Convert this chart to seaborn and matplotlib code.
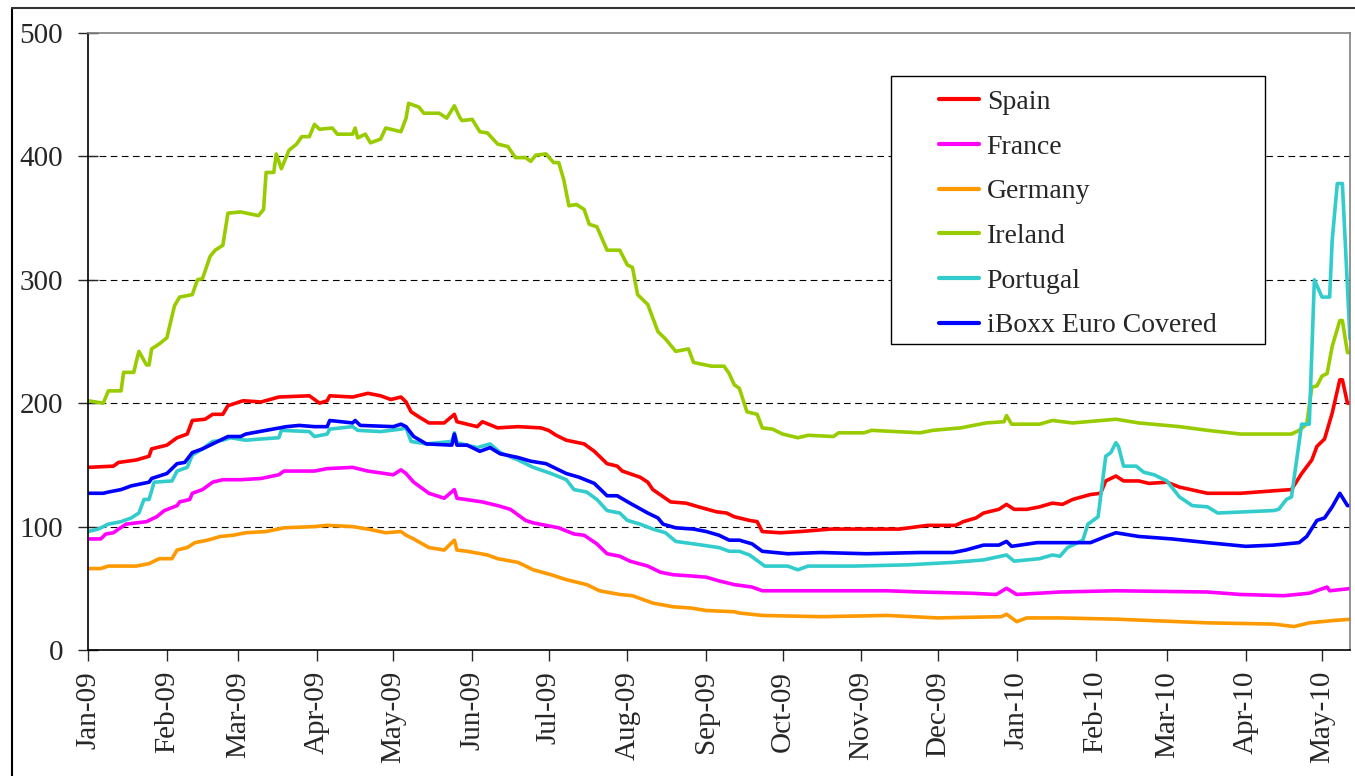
import pandas as pd
import matplotlib
matplotlib.use("Agg")
import matplotlib.pyplot as plt
import matplotlib.dates as mdates
from matplotlib.lines import Line2D
from matplotlib.patches import Rectangle
import seaborn as sns

# gunler 2009-01-01'den itibaren sayiliyor, degerler baz puan
start = pd.Timestamp("2009-01-01")

spain_days = [0, 10, 12, 19, 24, 25, 31, 35, 39, 41, 46, 49, 53, 55, 61, 68, 75, 87, 91, 94, 95,
              104, 110, 115, 119, 123, 125, 127, 130, 134, 140, 144, 145, 153, 155, 161, 169, 178,
              181, 184, 188, 195, 199, 204, 208, 210, 217, 220, 222, 229, 235, 240, 247, 251, 254,
              256, 260, 263, 265, 272, 280, 292, 305, 319, 330, 341, 344, 349, 352, 358, 361, 364,
              369, 374, 379, 383, 387, 394, 398, 400, 404, 407, 413, 417, 424, 429, 440, 453, 466,
              473, 477, 481, 483, 486, 489, 492, 493, 495, 497]
spain = [148, 149, 152, 154, 157, 163, 166, 172, 175, 186, 187, 191, 191, 198, 202, 201, 205, 206,
         200, 202, 206, 205, 208, 206, 203, 205, 201, 193, 189, 184, 184, 191, 185, 181, 185, 180,
         181, 180, 178, 174, 170, 167, 161, 151, 149, 145, 140, 136, 130, 120, 119, 116, 112, 111,
         108, 107, 105, 104, 96, 95, 96, 98, 98, 98, 101, 101, 104, 107, 111, 114, 118, 114, 114,
         116, 119, 118, 122, 126, 127, 137, 141, 137, 137, 135, 136, 132, 127, 127, 129, 130, 143,
         154, 165, 171, 192, 219, 219, 200, 200]

france_days = [0, 5, 7, 10, 12, 15, 23, 27, 30, 35, 36, 40, 41, 45, 49, 53, 60, 68, 75, 77, 89, 94,
               104, 110, 120, 123, 125, 128, 134, 140, 144, 145, 155, 161, 166, 172, 175, 185, 191,
               195, 200, 204, 209, 213, 220, 225, 230, 237, 243, 248, 254, 261, 265, 288, 314, 327,
               347, 357, 361, 365, 382, 404, 440, 453, 470, 480, 487, 488, 497]
france = [90, 90, 94, 95, 98, 102, 104, 108, 113, 117, 120, 122, 127, 130, 136, 138, 138, 139, 142,
          145, 145, 147, 148, 145, 142, 146, 143, 136, 127, 123, 130, 123, 120, 117, 114, 105, 103,
          99, 94, 93, 86, 78, 76, 72, 68, 63, 61, 60, 59, 56, 53, 51, 48, 48, 48, 47, 46, 45, 50,
          45, 47, 48, 47, 45, 44, 46, 51, 48, 50]

germany_days = [0, 5, 8, 19, 24, 28, 33, 35, 39, 42, 47, 52, 57, 62, 70, 77, 89, 94, 104, 110, 117,
                123, 125, 128, 134, 140, 144, 145, 149, 157, 161, 169, 175, 182, 188, 196, 201, 209,
                214, 222, 230, 237, 243, 254, 256, 265, 288, 314, 334, 359, 361, 365, 369, 382, 404,
                440, 466, 474, 480, 490, 497]
germany = [66, 66, 68, 68, 70, 74, 74, 81, 83, 87, 89, 92, 93, 95, 96, 99, 100, 101, 100, 98, 95,
           96, 93, 90, 83, 81, 89, 81, 80, 77, 74, 71, 65, 61, 57, 53, 48, 45, 44, 38, 35, 34, 32,
           31, 30, 28, 27, 28, 26, 27, 29, 23, 26, 26, 25, 22, 21, 19, 22, 24, 25]

ireland_days = [0, 6, 8, 13, 14, 18, 19, 20, 23, 24, 25, 28, 31, 34, 36, 41, 43, 45, 48, 50, 53, 55,
                60, 67, 69, 70, 73, 74, 76, 79, 82, 84, 87, 89, 91, 96, 98, 104, 105, 106, 109, 111,
                115, 117, 123, 125, 126, 130, 132, 138, 141, 144, 146, 147, 151, 154, 157, 161, 165,
                168, 172, 174, 176, 180, 183, 185, 187, 189, 192, 195, 197, 200, 204, 209, 212, 214,
                216, 220, 224, 227, 231, 236, 238, 245, 250, 252, 254, 256, 259, 263, 265, 269, 273,
                279, 283, 293, 295, 305, 308, 327, 332, 343, 353, 360, 361, 363, 374, 379, 387, 404,
                413, 429, 440, 453, 473, 476, 479, 481, 483, 485, 487, 489, 492, 493, 495, 497]
ireland = [202, 200, 210, 210, 225, 225, 234, 242, 231, 231, 244, 248, 253, 279, 286, 288, 300, 301,
           319, 324, 328, 354, 355, 352, 357, 387, 387, 402, 390, 405, 410, 416, 416, 426, 422, 423,
           418, 418, 423, 415, 418, 411, 414, 423, 420, 431, 443, 440, 435, 435, 431, 441, 432, 429,
           430, 420, 419, 410, 408, 399, 399, 396, 401, 402, 395, 395, 381, 360, 361, 357, 345, 343,
           324, 324, 312, 310, 288, 280, 258, 252, 242, 244, 233, 230, 230, 224, 215, 212, 193, 191,
           180, 179, 175, 172, 174, 173, 176, 176, 178, 176, 178, 180, 184, 185, 190, 183, 183, 186,
           184, 187, 184, 181, 178, 175, 175, 178, 183, 213, 214, 222, 224, 246, 267, 267, 241, 241]

portugal_days = [0, 4, 8, 13, 17, 20, 22, 24, 26, 33, 35, 39, 41, 45, 49, 53, 56, 62, 68, 75, 76, 87,
                 89, 94, 95, 104, 106, 115, 123, 125, 127, 133, 143, 144, 145, 153, 158, 162, 169,
                 175, 182, 188, 191, 196, 200, 204, 209, 212, 217, 222, 227, 231, 238, 248, 252, 256,
                 260, 264, 266, 275, 279, 283, 301, 322, 340, 352, 361, 364, 374, 379, 382, 385, 391,
                 393, 397, 400, 402, 404, 405, 407, 412, 415, 419, 424, 429, 434, 440, 444, 466, 468,
                 471, 473, 477, 480, 482, 485, 488, 489, 491, 493, 496, 497]
portugal = [96, 98, 102, 104, 107, 111, 122, 122, 136, 137, 145, 148, 158, 163, 169, 170, 172, 170,
            171, 172, 178, 177, 173, 175, 179, 181, 178, 177, 179, 180, 169, 167, 169, 176, 168, 164,
            167, 160, 154, 148, 143, 138, 130, 128, 122, 113, 111, 105, 102, 98, 95, 88, 86, 83, 80,
            80, 77, 71, 68, 68, 65, 68, 68, 69, 71, 73, 77, 72, 74, 77, 76, 83, 89, 102, 108, 157,
            160, 168, 165, 149, 149, 144, 142, 137, 124, 117, 116, 111, 113, 114, 122, 124, 183, 183,
            300, 286, 286, 332, 378, 378, 252, 250]

iboxx_days = [0, 6, 8, 13, 17, 24, 25, 31, 35, 38, 41, 45, 49, 55, 60, 62, 70, 78, 83, 89, 94, 95,
              104, 105, 107, 120, 123, 125, 128, 133, 143, 144, 145, 149, 154, 158, 162, 169, 174,
              180, 184, 188, 193, 199, 204, 208, 213, 220, 224, 226, 231, 238, 243, 248, 252, 256,
              261, 265, 275, 288, 306, 327, 340, 345, 352, 358, 361, 363, 373, 382, 394, 400, 404,
              413, 426, 440, 455, 466, 476, 479, 483, 486, 489, 492, 495, 497]
iboxx = [127, 127, 128, 130, 133, 136, 139, 143, 151, 152, 160, 163, 167, 173, 173, 175, 178, 181,
         182, 181, 181, 186, 184, 186, 182, 181, 183, 181, 173, 167, 166, 175, 166, 166, 161, 164,
         159, 156, 153, 151, 147, 143, 140, 135, 125, 125, 119, 111, 107, 102, 99, 98, 96, 93, 89,
         89, 86, 80, 78, 79, 78, 79, 79, 81, 85, 85, 88, 84, 87, 87, 87, 92, 95, 92, 90, 87, 84,
         85, 87, 92, 105, 107, 116, 127, 117, 117]

series_names = ["Spain", "France", "Germany", "Ireland", "Portugal", "iBoxx Euro Covered"]
series_colors = ["#FF0000", "#FF00FF", "#FF9900", "#99CC00", "#33CCCC", "#0000FF"]

parts = []
for name, days, vals in [("Spain", spain_days, spain), ("France", france_days, france),
                         ("Germany", germany_days, germany), ("Ireland", ireland_days, ireland),
                         ("Portugal", portugal_days, portugal),
                         ("iBoxx Euro Covered", iboxx_days, iboxx)]:
    parts.append(pd.DataFrame({"date": start + pd.to_timedelta(days, unit="D"),
                               "bp": vals, "series": name}))
df = pd.concat(parts, ignore_index=True)

sns.set_style("white")
plt.rcParams["font.family"] = ["Liberation Serif", "DejaVu Serif"]

fig = plt.figure(figsize=(13.55, 7.76), dpi=100)
ax = fig.add_axes([88 / 1355, 1 - 650 / 776, (1350 - 88) / 1355, (650 - 33) / 776])

sns.lineplot(data=df, x="date", y="bp", hue="series", hue_order=series_names,
             palette=dict(zip(series_names, series_colors)), linewidth=2.6,
             errorbar=None, sort=False, ax=ax)

ax.set_xlim(start, start + pd.Timedelta(days=496))
ax.set_ylim(0, 500)
ax.set_yticks([0, 100, 200, 300, 400, 500])
ax.xaxis.set_major_locator(mdates.MonthLocator())
ax.xaxis.set_major_formatter(mdates.DateFormatter("%b-%y"))
ax.set_xlabel("")
ax.set_ylabel("")

# kesikli yatay cizgiler, ust cerceveyle cakismasin diye 500 haric
for t in [100, 200, 300, 400]:
    ax.axhline(t, color="black", linewidth=0.8, linestyle=(0, (6, 4)), zorder=0.5)

ax.tick_params(axis="y", direction="inout", length=14, width=1, labelsize=21, pad=11, left=True)
ax.tick_params(axis="x", direction="out", length=8, width=1, labelsize=21, pad=7,
               labelrotation=90, bottom=True)

for side in ["left", "bottom"]:
    ax.spines[side].set_color("black")
    ax.spines[side].set_linewidth(1.2)
for side in ["top", "right"]:
    ax.spines[side].set_color("#808080")
    ax.spines[side].set_linewidth(1.2)

# lejant kutusu elle cizildi, orijinaldeki genis bosluk icin
box = Rectangle((0.636, 0.496), 0.297, 0.434, transform=ax.transAxes, facecolor="white",
                edgecolor="black", linewidth=1, zorder=4)
ax.add_patch(box)

old = ax.get_legend()
handles = old.legend_handles
labels = [t.get_text() for t in old.get_texts()]
old.remove()
leg = ax.legend(handles, labels, loc="upper left", bbox_to_anchor=(0.674, 0.908),
                frameon=False, fontsize=20, handlelength=1.45, handletextpad=0.28,
                labelspacing=0.69, borderpad=0, borderaxespad=0)
leg.set_zorder(5)
for h in leg.legend_handles:
    h.set_linewidth(3)

# figurun etrafindaki cerceve (sol ve ust)
fig.add_artist(Line2D([12 / 1355, 12 / 1355], [0, 1 - 8 / 776], transform=fig.transFigure,
                      color="black", linewidth=1.5))
fig.add_artist(Line2D([12 / 1355, 1], [1 - 8 / 776, 1 - 8 / 776], transform=fig.transFigure,
                      color="#333333", linewidth=1.5))

fig.savefig("out.png", dpi=100)
